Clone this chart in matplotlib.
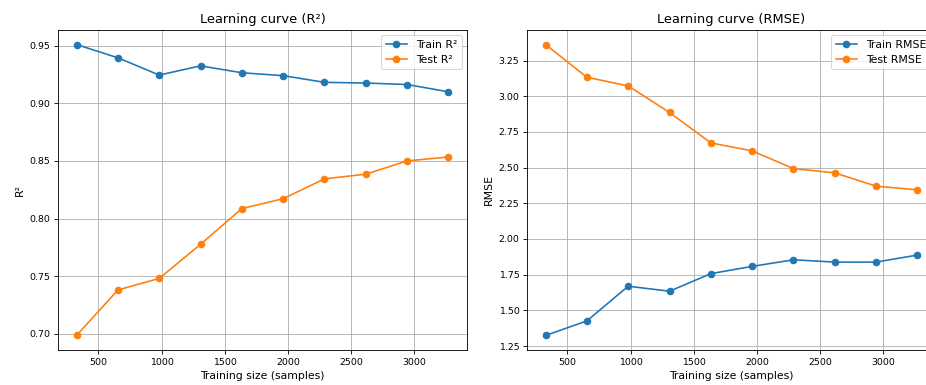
import matplotlib
matplotlib.use('Agg')
import matplotlib.pyplot as plt

# tamaños de entrenamiento (10 % ... 100 %)
train_sizes = [327, 654, 981, 1308, 1635, 1962, 2289, 2616, 2943, 3270]

train_r2 = [0.951, 0.9395, 0.9245, 0.9325, 0.9265, 0.924, 0.9182, 0.9176, 0.9163, 0.910]
test_r2  = [0.6985, 0.738, 0.748, 0.7776, 0.8086, 0.8172, 0.8344, 0.8385, 0.850, 0.8534]

train_rmse = [1.324, 1.426, 1.669, 1.634, 1.757, 1.808, 1.854, 1.838, 1.838, 1.887]
test_rmse  = [3.362, 3.133, 3.072, 2.886, 2.673, 2.617, 2.493, 2.463, 2.370, 2.344]

DPI = 78
plt.rcParams['xtick.labelsize'] = 8.7
plt.rcParams['ytick.labelsize'] = 8.7

fig = plt.figure(figsize=(926 / DPI, 385 / DPI), dpi=DPI)
fig.patch.set_facecolor('white')

# Panel izquierdo — R²
ax1 = fig.add_axes([58 / 926, 35 / 385, 409 / 926, 320 / 385])
ax1.plot(train_sizes, train_r2, 'o-', label='Train R²')
ax1.plot(train_sizes, test_r2, 'o-', label='Test R²')
ax1.set_title('Learning curve (R²)')
ax1.set_xlabel('Training size (samples)')
ax1.set_ylabel('R²')
ax1.grid(True)
ax1.legend(loc='upper right')

# Panel derecho — RMSE (se sale por la derecha, igual que el original)
ax2 = fig.add_axes([527 / 926, 35 / 385, 409 / 926, 320 / 385])
ax2.plot(train_sizes, train_rmse, 'o-', label='Train RMSE')
ax2.plot(train_sizes, test_rmse, 'o-', label='Test RMSE')
ax2.set_title('Learning curve (RMSE)')
ax2.set_xlabel('Training size (samples)')
ax2.set_ylabel('RMSE')
ax2.grid(True)
ax2.legend(loc='upper right')

fig.savefig('out.png', dpi=DPI, facecolor='white')
plt.close(fig)
